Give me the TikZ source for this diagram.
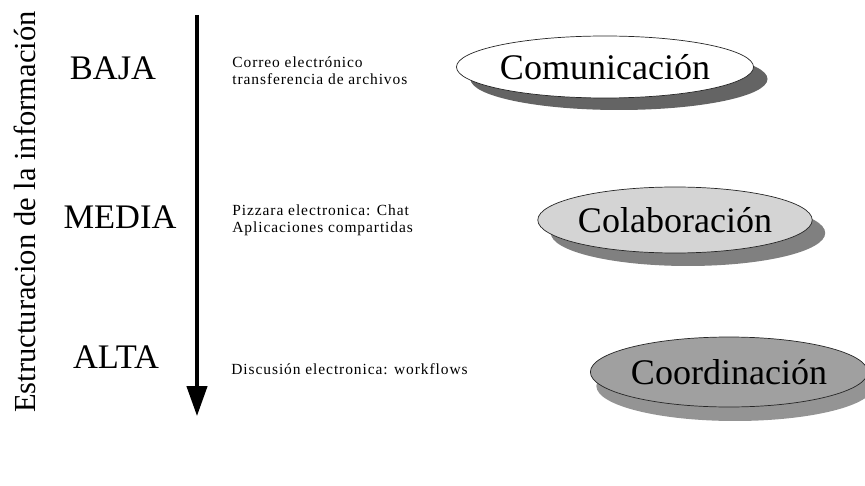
\documentclass[tikz,border=0pt]{standalone}
\usepackage{fontspec}
\setmainfont{Liberation Serif}
\usepackage{tikz}
\usetikzlibrary{shapes.geometric, arrows.meta, shadows}
\definecolor{lightgrey}{RGB}{212, 212, 212}
\definecolor{midgrey}{RGB}{160, 160, 160}
\definecolor{shadowgrey}{RGB}{100, 100, 100}

\begin{document}
\begin{tikzpicture}[
    x=0.02cm, y=-0.02cm,
    level/.style={font=\fontsize{19.6}{21}\selectfont, anchor=center},
    detail/.style={font=\fontsize{8.8}{9.7}\selectfont\addfontfeatures{LetterSpace=6}, anchor=west, align=left, inner sep=0pt},
    oval/.style={ellipse, draw=black!85, thin, inner sep=0pt, font=\fontsize{20.5}{22}\selectfont},
    axisarrow/.style={-{Triangle[length=17pt, width=11.5pt]}, line width=2pt, black}
]
\useasboundingbox (0,0) rectangle (865,486);

% Vertical axis
\node[rotate=90, font=\fontsize{17.4}{19}\selectfont] (axislabel) at (25,212) {Estructuracion de la información};
\coordinate (axistop) at (197,15);
\coordinate (axisbottom) at (197,416);
\draw[axisarrow] (axistop) -- (axisbottom);

% Levels
\node[level] (baja) at (113,68) {BAJA};
\node[level] (media) at (120,217) {MEDIA};
\node[level] (alta) at (116,357) {ALTA};

% Tools
\node[detail] (tools1) at (232,71) {Correo electrónico\\transferencia de archivos};
\node[detail] (tools2) at (232,220) {Pizzara electronica: Chat\\Aplicaciones compartidas};
\node[detail] (tools3) at (231,369) {Discusión electronica: workflows};

% Ovals
\node[oval, fill=white, minimum width=5.08cm, minimum height=1.24cm,
      drop shadow={shadow xshift=0.28cm, shadow yshift=-0.24cm, fill=shadowgrey, opacity=1}] (comunicacion) at (605,67) {Comunicación};
\node[oval, fill=lightgrey, minimum width=5.28cm, minimum height=1.32cm,
      drop shadow={shadow xshift=0.26cm, shadow yshift=-0.26cm, fill=black!50, opacity=1}] (colaboracion) at (675,220) {Colaboración};
\node[oval, fill=midgrey, minimum width=5.44cm, minimum height=1.40cm,
      drop shadow={shadow xshift=0.12cm, shadow yshift=-0.28cm, fill=black!42, opacity=1}] (coordinacion) at (729,372) {Coordinación};
\end{tikzpicture}
\end{document}
